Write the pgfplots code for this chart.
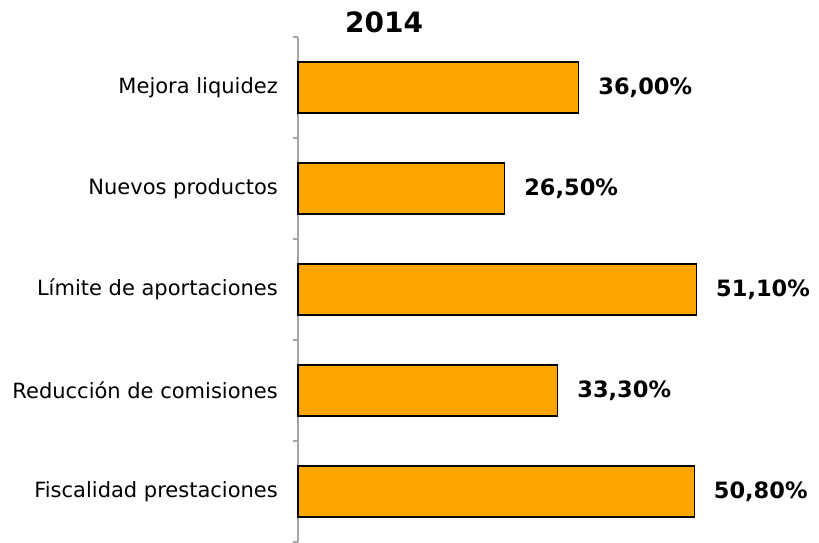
\documentclass[border=0pt]{standalone}
\usepackage{fontspec}
\setmainfont{DejaVu Sans}
\usepackage{pgfplots}
\pgfplotsset{compat=1.18}
\definecolor{barorange}{HTML}{FFA500}
\definecolor{axgray}{HTML}{A6A6A6}
\begin{document}
\begin{tikzpicture}[x=1pt,y=1pt]
\path[use as bounding box] (0,0) rectangle (819,542);
\begin{axis}[
  at={(298pt,0pt)}, anchor=south west,
  scale only axis, width=468pt, height=505pt,
  xbar, xmin=0, xmax=60,
  ymin=-0.5, ymax=4.5,
  bar width=51pt,
  hide x axis,
  axis y line*=left,
  ytick={0,1,2,3,4},
  yticklabels={Fiscalidad prestaciones, Reducción de comisiones, Límite de aportaciones, Nuevos productos, Mejora liquidez},
  minor ytick={-0.5,0.5,1.5,2.5,3.5,4.5},
  major tick length=0pt, minor tick length=5pt,
  tick align=outside,
  y axis line style={axgray, line width=1.2pt},
  minor tick style={axgray, line width=1.2pt},
  yticklabel style={font=\fontsize{21}{25}\selectfont, inner sep=0pt, xshift=-20pt, anchor=east},
  point meta=x,
  nodes near coords={\pgfmathprintnumber[fixed,fixed zerofill,precision=2,use comma,assume math mode=true]{\pgfplotspointmeta}\%},
  every node near coord/.append style={font=\bfseries\fontsize{22.5}{26}\selectfont, black, anchor=west, inner sep=0pt, xshift=19pt},
  clip=false,
]
\addplot[fill=barorange, draw=black, line width=1.2pt] coordinates {(50.8,0) (33.3,1) (51.1,2) (26.5,3) (36.0,4)};
\end{axis}
\node[font=\bfseries\fontsize{28}{32}\selectfont] at (384,519.5) {2014};
\end{tikzpicture}
\end{document}
